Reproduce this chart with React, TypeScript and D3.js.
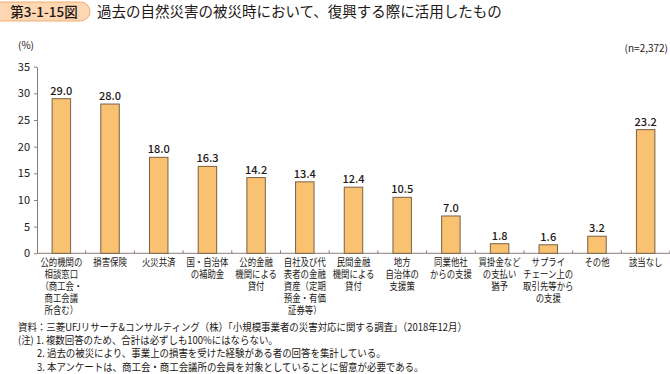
import React, { useEffect, useRef } from 'react'
import * as d3 from 'd3'

const categories = [
  '公的機関の相談窓口', '損害保険', '火災共済', '国・自治体の補助金', '公的金融機関による貸付',
  '自社及び代表者の金融資産', '民間金融機関による貸付', '地方自治体の支援策', '同業他社からの支援',
  '買掛金などの支払い猶予', 'サプライチェーン上の取引先等からの支援', 'その他', '該当なし'
]
const values = [29.0, 28.0, 18.0, 16.3, 14.2, 13.4, 12.4, 10.5, 7.0, 1.8, 1.6, 3.2, 23.2]
const labelLines = [
  ['公的機関の', '相談窓口', '（商工会・', '商工会議', '所含む）'],
  ['損害保険'],
  ['火災共済'],
  ['国・自治体', 'の補助金'],
  ['公的金融', '機関による', '貸付'],
  ['自社及び代', '表者の金融', '資産（定期', '預金・有価', '証券等）'],
  ['民間金融', '機関による', '貸付'],
  ['地方', '自治体の', '支援策'],
  ['同業他社', 'からの支援'],
  ['買掛金など', 'の支払い', '猶予'],
  ['サプライ', 'チェーン上の', '取引先等から', 'の支援'],
  ['その他'],
  ['該当なし']
]
const yTicks = [0, 5, 10, 15, 20, 25, 30, 35]
const notes = [
  '資料：三菱UFJリサーチ&コンサルティング（株）「小規模事業者の災害対応に関する調査」（2018年12月）',
  '(注) 1. 複数回答のため、合計は必ずしも100%にはならない。',
  '2. 過去の被災により、事業上の損害を受けた経験がある者の回答を集計している。',
  '3. 本アンケートは、商工会・商工会議所の会員を対象としていることに留意が必要である。'
]

const App = () => {
  const chart = useRef<SVGSVGElement>(null)

  useEffect(() => {
    document.body.style.margin = '0'
    const svg = d3.select(chart.current)
    svg.selectAll('*').remove()
    svg.attr('width', 670).attr('height', 374)
      .style('font-family', '"Noto Sans CJK JP", "Noto Sans", sans-serif')
      .style('display', 'block')

    const textColor = '#231815'
    const axisColor = '#8a7f78'

    // title
    svg.append('rect')
      .attr('x', -12).attr('y', 2).attr('width', 102).attr('height', 19).attr('rx', 9.5)
      .attr('fill', '#fcd7b1').attr('stroke', '#f3ad72').attr('stroke-width', 1)
    svg.append('text')
      .attr('x', 44).attr('y', 16.5).attr('text-anchor', 'middle')
      .attr('font-size', 13.5).attr('font-weight', 500).attr('fill', textColor)
      .text('第3-1-15図')
    svg.append('text')
      .attr('x', 97).attr('y', 17)
      .attr('font-size', 14.5).attr('fill', textColor)
      .text('過去の自然災害の被災時において、復興する際に活用したもの')

    svg.append('text')
      .attr('x', 18).attr('y', 49).attr('font-size', 10).attr('fill', textColor)
      .text('(%)')
    svg.append('text')
      .attr('x', 668).attr('y', 52).attr('text-anchor', 'end').attr('font-size', 10).attr('fill', textColor)
      .text('(n=2,372)')

    const x = d3.scaleBand()
      .domain(categories)
      .range([37, 670])
      .paddingInner(0.6)
      .paddingOuter(0.3)

    const y = d3.scaleLinear()
      .domain([0, 35])
      .range([253.3, 66.7])

    const yAxis = svg.append('g')
      .attr('transform', 'translate(37,0)')
      .call(d3.axisLeft(y).tickValues(yTicks).tickSize(3).tickSizeOuter(0).tickPadding(4))
    yAxis.selectAll('path, line').attr('stroke', axisColor)
    yAxis.selectAll('text').attr('font-size', 11).attr('fill', textColor)
      .style('font-family', '"Noto Sans CJK JP", sans-serif')

    // x axis line and ticks between bars
    const gap = (x.step() - x.bandwidth()) / 2
    svg.append('line')
      .attr('x1', 37).attr('x2', 670).attr('y1', y(0)).attr('y2', y(0))
      .attr('stroke', axisColor)
    svg.append('g')
      .selectAll('line')
      .data(categories)
      .join('line')
      .attr('x1', d => x(d)! + x.bandwidth() + gap)
      .attr('x2', d => x(d)! + x.bandwidth() + gap)
      .attr('y1', y(0))
      .attr('y2', y(0) - 3)
      .attr('stroke', axisColor)

    svg.append('g')
      .selectAll('rect')
      .data(values)
      .join('rect')
      .attr('x', (d, i) => x(categories[i])! + 0.5)
      .attr('y', d => y(d))
      .attr('width', x.bandwidth() - 1)
      .attr('height', d => y(0) - y(d))
      .attr('fill', '#f9c271')
      .attr('stroke', '#7b6048')
      .attr('stroke-width', 1)

    svg.append('g')
      .selectAll('text')
      .data(values)
      .join('text')
      .attr('x', (d, i) => x(categories[i])! + x.bandwidth() / 2)
      .attr('y', d => y(d) - 4)
      .attr('text-anchor', 'middle')
      .attr('font-size', 11)
      .attr('font-weight', 500)
      .attr('fill', textColor)
      .text(d => d.toFixed(1))

    // category labels, squeezed like the condensed face of the original
    const labels = svg.append('g')
    labelLines.forEach((lines, i) => {
      const cx = x(categories[i])! + x.bandwidth() / 2
      labels.append('text')
        .attr('transform', `translate(${cx},266) scale(0.84,1)`)
        .attr('text-anchor', 'middle')
        .attr('font-size', 10)
        .attr('fill', textColor)
        .selectAll('tspan')
        .data(lines)
        .join('tspan')
        .attr('x', 0)
        .attr('y', (d, j) => j * 12)
        .text(d => d)
    })

    // notes
    svg.append('g')
      .selectAll('text')
      .data(notes)
      .join('text')
      .attr('transform', (d, i) => `translate(${i < 2 ? 18 : 37},${331 + i * 13.2}) scale(0.9,1)`)
      .attr('font-size', 10.5)
      .attr('fill', textColor)
      .text(d => d)
  }, [])

  return <svg ref={chart}></svg>
}

export default App
